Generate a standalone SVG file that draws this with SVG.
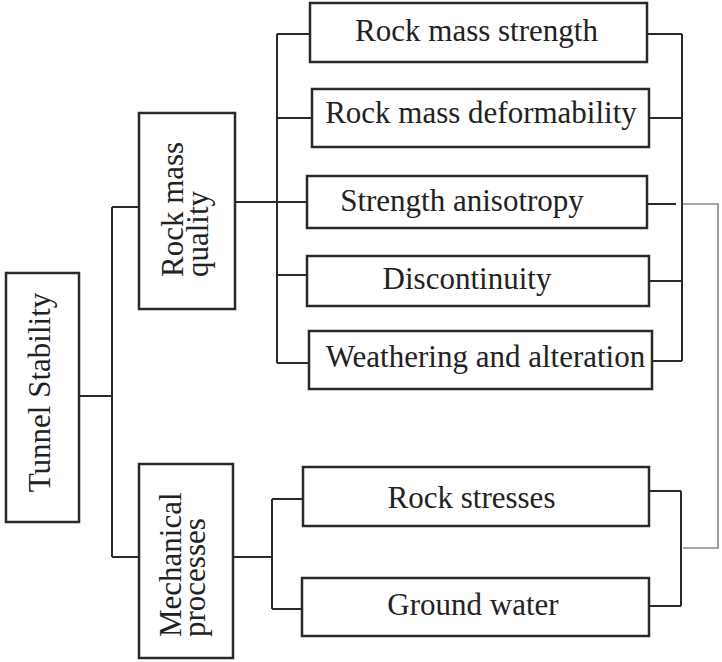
<svg xmlns="http://www.w3.org/2000/svg" width="722" height="662" viewBox="0 0 722 662">
<style>
.box{fill:#fff;stroke:#2a2a2a;stroke-width:2.5}
.ln{fill:none;stroke:#2a2a2a;stroke-width:2}
.gr{fill:none;stroke:#8a8a8a;stroke-width:1.6}
text{font-family:"Liberation Serif","Times New Roman",serif;font-size:31px;fill:#222}
.c{text-anchor:middle}
</style>
<rect width="722" height="662" fill="#fff"/>
<g id="connectors">
<path class="ln" d="M79,396H112M112,207V557M112,207H139M112,557H139"/>
<path class="ln" d="M235,202H277M277,34V363M277,34H310M277,118H312M277,202H307M277,275H313M277,363H309"/>
<path class="ln" d="M682,34V361M647,34H682M649,118H682M647,204H676M649,281H682M652,361H682"/>
<path class="gr" d="M683,204H718V548H683"/>
<path class="ln" d="M233,557H272M272,499V609M272,499H303M272,609H303"/>
<path class="ln" d="M681,491V606M649,491H681M649,606H681"/>
</g>
<g id="tunnel-stability"><rect class="box" x="6" y="273" width="73" height="249"/><text class="c" transform="translate(50,392.5) rotate(-90)">Tunnel Stability</text></g>
<g id="rock-mass-quality"><rect class="box" x="139" y="113" width="96" height="196"/><text transform="translate(183,277) rotate(-90)">Rock mass</text><text transform="translate(208,277) rotate(-90)">quality</text></g>
<g id="mechanical-processes"><rect class="box" x="139" y="464" width="94" height="194"/><text transform="translate(181,637) rotate(-90)">Mechanical</text><text transform="translate(205,637) rotate(-90)">processes</text></g>
<g id="rock-mass-strength"><rect class="box" x="310" y="3" width="337" height="59"/><text class="c" x="476.5" y="41">Rock mass strength</text></g>
<g id="rock-mass-deformability"><rect class="box" x="312" y="89" width="337" height="58"/><text class="c" x="481" y="123">Rock mass deformability</text></g>
<g id="strength-anisotropy"><rect class="box" x="307" y="176" width="340" height="52"/><text class="c" x="462" y="211">Strength anisotropy</text></g>
<g id="discontinuity"><rect class="box" x="307" y="256" width="342" height="50"/><text class="c" x="467" y="289">Discontinuity</text></g>
<g id="weathering-alteration"><rect class="box" x="309" y="331" width="343" height="58"/><text class="c" x="485.5" y="367">Weathering and alteration</text></g>
<g id="rock-stresses"><rect class="box" x="303" y="467" width="346" height="59"/><text class="c" x="471.5" y="508">Rock stresses</text></g>
<g id="ground-water"><rect class="box" x="302" y="578" width="347" height="58"/><text class="c" x="473" y="615">Ground water</text></g>
</svg>
